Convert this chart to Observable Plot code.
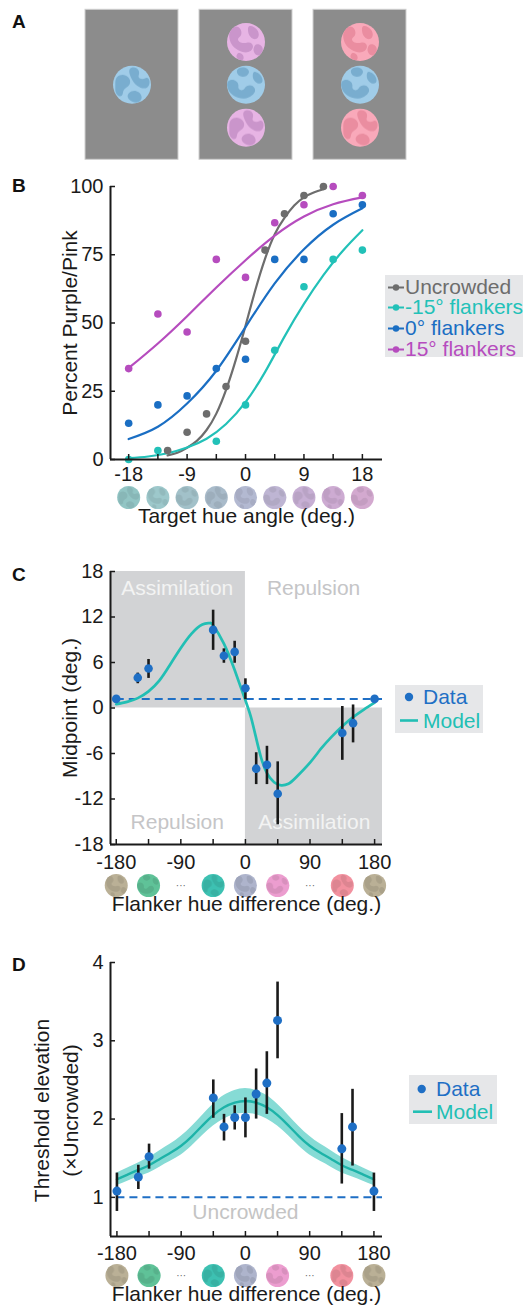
<!DOCTYPE html>
<html><head><meta charset="utf-8">
<script src="https://cdn.jsdelivr.net/npm/d3@7"></script>
<script src="https://cdn.jsdelivr.net/npm/@observablehq/plot@0.6"></script>
<style>
body{margin:0;background:#fff;}
#page{position:relative;width:525px;height:1312px;overflow:hidden;font-family:"Liberation Sans",Arial,Helvetica,sans-serif;}
.plabel{position:absolute;left:12px;font-weight:bold;font-size:19px;line-height:19px;color:#111;}
.lg{position:absolute;background:#e6e7e9;font-size:21px;}
.lgrow{position:absolute;left:0;height:24px;line-height:24px;white-space:nowrap;}
</style></head>
<body><div id="page"></div>
<script>
const FONT = '"Liberation Sans", Arial, Helvetica, sans-serif';

// ---------- Panel A: stimulus displays ----------
const displays = ["Uncrowded", "Purple flankers", "Pink flankers"];
const patchDisplay = ["Uncrowded", "Purple flankers", "Purple flankers", "Purple flankers", "Pink flankers", "Pink flankers", "Pink flankers"];
const patchSlot = [0, -1, 0, 1, -1, 0, 1];
const patchColor = ["#a0cce8", "#e7b4e4", "#a0cce8", "#e7b4e4", "#f9a9ba", "#a0cce8", "#f9a9ba"];
const patchBlob = ["#79adcf", "#ca95cb", "#79adcf", "#ca95cb", "#ea8da0", "#79adcf", "#ea8da0"];

// ---------- Panel B: psychometric functions ----------
const hueAnglesB = [-18, -13.5, -9, -4.5, 0, 4.5, 9, 13.5, 18];
const hueColorsB = ["#92c5c4", "#9dc8cb", "#a2c1c9", "#a9bbca", "#b3b9d1", "#beb5d3", "#c7afd4", "#cdabd2", "#d3a9cf"];
const seriesNamesB = ["Uncrowded", "-15° flankers", "0° flankers", "15° flankers"];
const seriesColorsB = ["#6d6d6d", "#22c1b8", "#1a6ec3", "#b64cbe"];

const uncX = [-12, -9, -6, -3, 0, 3, 6, 9, 12];
const uncY = [3.3, 10, 16.7, 26.7, 43.3, 76.7, 90, 96.7, 100];
const m15X = [-18, -13.5, -4.5, 0, 4.5, 9, 13.5, 18];
const m15Y = [0, 3.3, 6.7, 20, 40, 63.3, 73.3, 76.7];
const f0X = [-18, -13.5, -9, -4.5, 0, 4.5, 9, 13.5, 18];
const f0Y = [13.3, 20, 23.3, 33.3, 36.7, 73.3, 73.3, 90, 93.3];
const p15X = [-18, -13.5, -9, -4.5, 0, 4.5, 9, 13.5, 18];
const p15Y = [33.3, 53.3, 46.7, 73.3, 66.7, 86.7, 93.3, 100, 96.7];

const uncFitX = [-12, -10.5, -9, -7.5, -6, -4.5, -3, -1.5, 0, 1.5, 3, 4.5, 6, 7.5, 9, 10.5, 12];
const uncFitY = [1.5, 2.5, 4.3, 6.8, 10.8, 16.8, 25.5, 36.5, 49, 62, 73.5, 82.5, 88.5, 93, 96, 97.8, 99];
const m15FitX = [-18, -15, -12, -9, -6, -3, 0, 3, 6, 9, 12, 15, 18];
const m15FitY = [0.5, 1.1, 2.3, 4.4, 7.6, 13, 21, 32, 45, 57, 67.5, 76.5, 84];
const f0FitX = [-18, -13.5, -9, -4.5, 0, 4.5, 9, 13.5, 18];
const f0FitY = [7.5, 12, 20.5, 32.5, 48.5, 64.5, 77, 86, 92];
const p15FitX = [-18, -13.5, -9, -4.5, 0, 4.5, 9, 13.5, 18];
const p15FitY = [33.5, 42.5, 52.5, 63, 73, 82, 89, 93.5, 96];

const bXDomain = [-20.8, 21.1];
const bXTicks = [-18, -13.5, -9, -4.5, 0, 4.5, 9, 13.5, 18];
const bXLabels = [-18, -9, 0, 9, 18];
const bYTicks = [0, 25, 50, 75, 100];

// ---------- Panels C & D: flanker hue difference ----------
const flankX = [-180, -150, -135, -45, -30, -15, 0, 15, 30, 45, 135, 150, 180];
const midC = [1.2, 4.0, 5.2, 10.3, 6.9, 7.4, 2.6, -8.0, -7.5, -11.3, -3.3, -2.0, 1.2];
const midCLo = [1.2, 3.2, 3.9, 7.6, 5.9, 5.9, 1.1, -10.1, -10.1, -15.4, -6.9, -4.6, 1.2];
const midCHi = [1.2, 4.6, 6.4, 12.9, 7.8, 8.8, 3.85, -5.9, -5.05, -7.1, 0.2, 0.4, 1.2];
const modelCX = [-180, -165, -150, -135, -120, -105, -90, -75, -60, -50, -45, -30, -15, 0, 8, 15, 22, 30, 40, 50, 60, 70, 90, 105, 120, 135, 150, 165, 180];
const modelCY = [0.5, 0.8, 1.3, 2.2, 3.6, 5.7, 7.9, 9.8, 11.0, 11.2, 10.9, 8.5, 5.0, 1.0, -1.3, -4.0, -6.6, -8.6, -9.8, -10.2, -10.0, -9.2, -7.2, -5.4, -3.8, -2.4, -1.2, -0.2, 0.7];
const uncrowdedMidC = 1.2;

const thrD = [1.08, 1.26, 1.52, 2.27, 1.9, 2.02, 2.02, 2.32, 2.46, 3.26, 1.62, 1.9, 1.08];
const thrDLo = [0.82, 1.10, 1.36, 2.01, 1.72, 1.86, 1.76, 2.0, 2.06, 2.77, 1.17, 1.40, 0.82];
const thrDHi = [1.31, 1.41, 1.68, 2.5, 2.06, 2.17, 2.27, 2.64, 2.86, 3.75, 2.07, 2.38, 1.31];
const modelDX = [-180, -165, -150, -135, -120, -105, -90, -75, -60, -45, -30, -15, 0, 15, 30, 45, 60, 75, 90, 105, 120, 135, 150, 165, 180];
const modelDY = [1.23, 1.29, 1.35, 1.41, 1.49, 1.57, 1.66, 1.78, 1.92, 2.05, 2.15, 2.21, 2.23, 2.21, 2.15, 2.05, 1.92, 1.78, 1.66, 1.57, 1.49, 1.41, 1.35, 1.29, 1.23];
const modelDHalf = [0.08, 0.085, 0.09, 0.10, 0.105, 0.11, 0.12, 0.125, 0.13, 0.14, 0.15, 0.155, 0.16, 0.155, 0.15, 0.14, 0.13, 0.125, 0.12, 0.11, 0.105, 0.10, 0.09, 0.085, 0.08];
const uncrowdedThr = 1;

const hueAnglesCD = [-180, -135, -45, 0, 45, 135, 180];
const hueColorsCD = ["#bab096", "#5fc298", "#3dc1b2", "#aeb4cc", "#ec9dcf", "#f2919f", "#bab096"];
const ellipsisAngles = [-90, 90];

const cXDomain = [-188, 191];
const dXDomain = [-189, 192];
const cdXTicks = [-180, -135, -90, -45, 0, 45, 90, 135, 180];
const cdXLabels = [-180, -90, 0, 90, 180];
const cYTicks = [-18, -12, -6, 0, 6, 12, 18];
const dYTicks = [1, 2, 3, 4];
const cYDomain = [-18, 18];
const dYDomain = [0.5, 4];

const blueData = "#1f6fc5";
const cyanModel = "#22bfb4";

// ---------- texture patterns ----------
const BLOBS = [
  "M0.1,0.3 C0.25,0.15 0.48,0.28 0.45,0.45 C0.42,0.6 0.28,0.55 0.26,0.72 C0.24,0.88 0.05,0.8 0.06,0.6 C0.07,0.48 0.04,0.38 0.1,0.3 Z M0.48,0.05 C0.62,0.0 0.72,0.12 0.68,0.24 C0.64,0.34 0.76,0.38 0.86,0.32 C0.98,0.28 1.0,0.5 0.9,0.57 C0.78,0.65 0.58,0.52 0.5,0.36 C0.44,0.24 0.38,0.1 0.48,0.05 Z M0.42,0.72 C0.54,0.6 0.72,0.68 0.75,0.8 C0.78,0.92 0.64,1.0 0.52,0.95 C0.4,0.9 0.34,0.8 0.42,0.72 Z",
  "M0.18,0.1 C0.36,0.04 0.44,0.28 0.33,0.37 C0.22,0.46 0.36,0.56 0.52,0.52 C0.68,0.48 0.74,0.64 0.62,0.74 C0.48,0.84 0.22,0.72 0.12,0.56 C0.02,0.4 0.04,0.16 0.18,0.1 Z M0.62,0.08 C0.78,0.1 0.9,0.28 0.8,0.4 C0.7,0.48 0.58,0.36 0.56,0.25 C0.54,0.16 0.55,0.06 0.62,0.08 Z M0.8,0.56 C0.94,0.56 1.0,0.74 0.88,0.84 C0.78,0.9 0.68,0.78 0.7,0.68 C0.72,0.6 0.74,0.56 0.8,0.56 Z M0.28,0.8 C0.38,0.76 0.48,0.88 0.42,0.97 C0.34,1.02 0.18,0.92 0.28,0.8 Z",
  "M0.02,0.42 C0.14,0.3 0.32,0.42 0.3,0.54 C0.28,0.64 0.4,0.68 0.46,0.6 C0.52,0.5 0.66,0.48 0.72,0.58 C0.8,0.7 0.62,0.84 0.46,0.86 C0.3,0.88 0.1,0.78 0.04,0.64 C0.0,0.55 -0.01,0.48 0.02,0.42 Z M0.32,0.06 C0.44,0.0 0.62,0.08 0.57,0.2 C0.52,0.32 0.34,0.32 0.28,0.22 C0.24,0.15 0.26,0.09 0.32,0.06 Z M0.74,0.16 C0.86,0.18 0.98,0.34 0.92,0.44 C0.85,0.52 0.7,0.42 0.68,0.3 C0.67,0.22 0.69,0.15 0.74,0.16 Z"
];
const defsSvg = d3.create("svg").attr("width", 0).attr("height", 0).style("position", "absolute");
const defs = defsSvg.append("defs");
const patCache = new Map();
function blobFill(color, variant) {
  const key = color + "|" + variant;
  if (!patCache.has(key)) {
    const id = "blob" + patCache.size;
    const p = defs.append("pattern").attr("id", id)
      .attr("patternUnits", "objectBoundingBox").attr("patternContentUnits", "objectBoundingBox")
      .attr("width", 1).attr("height", 1);
    p.append("path").attr("d", BLOBS[variant % BLOBS.length]).attr("fill", color);
    patCache.set(key, id);
  }
  return `url(#${patCache.get(key)})`;
}
document.body.appendChild(defsSvg.node());
const darker = (c, k = 0.35) => d3.color(c).darker(k).formatHex();

const page = document.getElementById("page");
function place(node, top) {
  node.style.position = "absolute";
  node.style.top = top + "px";
  node.style.left = "0px";
  page.appendChild(node);
}
function label(txt, top) {
  const d = document.createElement("div");
  d.className = "plabel"; d.textContent = txt; d.style.top = top + "px";
  page.appendChild(d);
}
const baseStyle = {fontFamily: FONT, fontSize: "20px", color: "#1a1a1a", background: "transparent", overflow: "visible"};
const fmt = d => String(d);
const TITLE = 21;

// ---------- Panel A ----------
const patches = patchDisplay.map((d, i) => ({display: d, slot: patchSlot[i], color: patchColor[i], blob: blobFill(patchBlob[i], i)}));
const plotA = Plot.plot({
  width: 525, height: 165, margin: 0,
  style: baseStyle,
  color: {type: "identity"},
  x: {type: "band", domain: displays, range: [84, 407], paddingInner: 0.18, paddingOuter: 0, axis: null},
  y: {domain: [-1.75, 1.75], range: [9.3, 159.3], axis: null},
  marks: [
    Plot.barY(displays, {x: d => d, y1: () => -1.75, y2: () => 1.75, fill: "#8c8c8c", stroke: "#cfcfcf", strokeWidth: 1}),
    Plot.dot(patches, {x: "display", y: "slot", r: 19, fill: "color"}),
    Plot.dot(patches, {x: "display", y: "slot", r: 19, fill: "blob"})
  ]
});
place(plotA, 0);
label("A", 12);

// ---------- Panel B ----------
const toPts = (xs, ys) => xs.map((x, i) => ({x, y: ys[i]}));
const hueB = hueAnglesB.map((a, i) => ({a, c: hueColorsB[i], b: blobFill(darker(hueColorsB[i], 0.2), i)}));
const fitsB = [toPts(uncFitX, uncFitY), toPts(m15FitX, m15FitY), toPts(f0FitX, f0FitY), toPts(p15FitX, p15FitY)];
const ptsB = [toPts(uncX, uncY), toPts(m15X, m15Y), toPts(f0X, f0Y), toPts(p15X, p15Y)];
const plotB = Plot.plot({
  width: 525, height: 375, marginLeft: 110, marginRight: 143, marginTop: 16, marginBottom: 86,
  style: baseStyle,
  color: {type: "identity"},
  x: {domain: bXDomain},
  y: {domain: [0, 100]},
  marks: [
    ...fitsB.map((d, i) => Plot.line(d, {x: "x", y: "y", stroke: seriesColorsB[i], strokeWidth: 2.2, curve: "natural"})),
    ...ptsB.map((d, i) => Plot.dot(d, {x: "x", y: "y", r: 3.8, fill: seriesColorsB[i]})),
    Plot.ruleX([bXDomain[0]], {stroke: "#1a1a1a", strokeWidth: 2}),
    Plot.ruleY([0], {stroke: "#1a1a1a", strokeWidth: 2}),
    Plot.tickX(bXTicks, {x: d => d, insetTop: 268, stroke: "#1a1a1a", strokeWidth: 1.5}),
    Plot.tickY(bYTicks, {y: d => d, insetRight: 267, stroke: "#1a1a1a", strokeWidth: 1.5}),
    Plot.axisX({ticks: bXLabels, tickSize: 0, tickPadding: 7, tickFormat: fmt, label: null, fill: "#1a1a1a"}),
    Plot.axisY({ticks: bYTicks, tickSize: 0, tickPadding: 7, tickFormat: fmt, label: null, fill: "#1a1a1a"}),
    Plot.dot(hueB, {x: "a", y: () => 0, dy: 38, r: 11.5, fill: "c"}),
    Plot.dot(hueB, {x: "a", y: () => 0, dy: 38, r: 11.5, fill: "b"}),
    Plot.text(["Target hue angle (deg.)"], {frameAnchor: "bottom", dy: 63, fontSize: TITLE, fill: "#1a1a1a"}),
    Plot.text(["Percent Purple/Pink"], {frameAnchor: "left", textAnchor: "middle", rotate: -90, dx: -40, fontSize: TITLE, fill: "#1a1a1a"})
  ]
});
place(plotB, 170);
label("B", 176);

// legend B
{
  const lg = document.createElement("div");
  lg.className = "lg";
  Object.assign(lg.style, {left: "385px", top: "275px", width: "138px", height: "82px"});
  seriesNamesB.forEach((name, i) => {
    const row = document.createElement("div");
    row.className = "lgrow";
    row.style.top = (11.5 + i * 20.8 - 12) + "px";
    row.style.color = seriesColorsB[i];
    row.innerHTML = `<svg width="18" height="24" style="position:absolute;left:2px;top:0"><line x1="1" x2="17" y1="12.5" y2="12.5" stroke="${seriesColorsB[i]}" stroke-width="2"/><circle cx="9" cy="12.5" r="3.2" fill="${seriesColorsB[i]}"/></svg><span style="position:absolute;left:20px;top:0">${name}</span>`;
    lg.appendChild(row);
  });
  page.appendChild(lg);
}

// ---------- Panel C ----------
const dataC = flankX.map((x, i) => ({x, y: midC[i], lo: midCLo[i], hi: midCHi[i]}));
const modelC = toPts(modelCX, modelCY);
const regionsC = [
  {x1: cXDomain[0], x2: 0, y1: 0, y2: cYDomain[1]},
  {x1: 0, x2: cXDomain[1], y1: cYDomain[0], y2: 0}
];
const regionLabelsC = [
  {x: -95, y: 15.8, t: "Assimilation", c: "#f3f3f3"},
  {x: 95, y: 15.8, t: "Repulsion", c: "#c5c5c7"},
  {x: -95, y: -15.1, t: "Repulsion", c: "#c5c5c7"},
  {x: 96, y: -15.1, t: "Assimilation", c: "#f3f3f3"}
];
const hueCD = hueAnglesCD.map((a, i) => ({a, c: hueColorsCD[i], b: blobFill(darker(hueColorsCD[i], 0.25), i + 1)}));
function hueRow(yBase, dy) {
  return [
    Plot.dot(hueCD, {x: "a", y: () => yBase, dy, r: 11.5, fill: "c"}),
    Plot.dot(hueCD, {x: "a", y: () => yBase, dy, r: 11.5, fill: "b"}),
    Plot.text(ellipsisAngles, {x: d => d, y: () => yBase, dy, text: () => "···", fontSize: 10, fill: "#666"})
  ];
}
const plotC = Plot.plot({
  width: 525, height: 375, marginLeft: 110, marginRight: 143, marginTop: 16, marginBottom: 86,
  style: baseStyle,
  color: {type: "identity"},
  x: {domain: cXDomain},
  y: {domain: cYDomain},
  marks: [
    Plot.rect(regionsC, {x1: "x1", x2: "x2", y1: "y1", y2: "y2", fill: "#d2d3d5"}),
    Plot.text(regionLabelsC, {x: "x", y: "y", text: "t", fill: "c", fontSize: TITLE}),
    Plot.ruleY([uncrowdedMidC], {x1: -180, x2: cXDomain[1], stroke: blueData, strokeWidth: 2, strokeDasharray: "8,5"}),
    Plot.line(modelC, {x: "x", y: "y", stroke: cyanModel, strokeWidth: 2.7, curve: "natural"}),
    Plot.ruleX(dataC, {x: "x", y1: "lo", y2: "hi", stroke: "#1a1a1a", strokeWidth: 2.6}),
    Plot.dot(dataC, {x: "x", y: "y", r: 4.3, fill: blueData}),
    Plot.ruleX([cXDomain[0]], {stroke: "#1a1a1a", strokeWidth: 2}),
    Plot.ruleY([cYDomain[0]], {stroke: "#1a1a1a", strokeWidth: 2}),
    Plot.tickX(cdXTicks, {x: d => d, insetTop: 268, stroke: "#1a1a1a", strokeWidth: 1.5}),
    Plot.tickY(cYTicks, {y: d => d, insetRight: 267, stroke: "#1a1a1a", strokeWidth: 1.5}),
    Plot.axisX({ticks: cdXLabels, tickSize: 0, tickPadding: 10, tickFormat: fmt, label: null, fill: "#1a1a1a"}),
    Plot.axisY({ticks: cYTicks, tickSize: 0, tickPadding: 7, tickFormat: fmt, label: null, fill: "#1a1a1a"}),
    ...hueRow(cYDomain[0], 41),
    Plot.text(["Flanker hue difference (deg.)"], {frameAnchor: "bottom", dy: 66, fontSize: TITLE, fill: "#1a1a1a"}),
    Plot.text(["Midpoint (deg.)"], {frameAnchor: "left", textAnchor: "middle", rotate: -90, dx: -40, fontSize: TITLE, fill: "#1a1a1a"})
  ]
});
place(plotC, 555);
label("C", 565);

function dataModelLegend(left, top, w, h, r1, r2, dotX, lineX1, lineX2, textX) {
  const lg = document.createElement("div");
  lg.className = "lg";
  Object.assign(lg.style, {left: left + "px", top: top + "px", width: w + "px", height: h + "px"});
  lg.innerHTML =
    `<svg width="${w}" height="${h}" style="position:absolute;left:0;top:0"><circle cx="${dotX}" cy="${r1}" r="4.2" fill="${blueData}"/><line x1="${lineX1}" x2="${lineX2}" y1="${r2}" y2="${r2}" stroke="${cyanModel}" stroke-width="2.6"/></svg>` +
    `<div class="lgrow" style="left:${textX}px;top:${r1 - 12}px;color:${blueData}">Data</div>` +
    `<div class="lgrow" style="left:${textX}px;top:${r2 - 12}px;color:${cyanModel}">Model</div>`;
  page.appendChild(lg);
}
dataModelLegend(395, 685, 88, 48, 12, 35.5, 14, 5, 23, 28);

// ---------- Panel D ----------
const dataD = flankX.map((x, i) => ({x, y: thrD[i], lo: thrDLo[i], hi: thrDHi[i]}));
const modelD = modelDX.map((x, i) => ({x, y: modelDY[i], lo: modelDY[i] - modelDHalf[i], hi: modelDY[i] + modelDHalf[i]}));
const plotD = Plot.plot({
  width: 525, height: 367, marginLeft: 110, marginRight: 143, marginTop: 17, marginBottom: 76,
  style: baseStyle,
  color: {type: "identity"},
  x: {domain: dXDomain},
  y: {domain: dYDomain},
  marks: [
    Plot.areaY(modelD, {x: "x", y1: "lo", y2: "hi", fill: "#86dbd5", curve: "natural"}),
    Plot.line(modelD, {x: "x", y: "y", stroke: "#1db3a8", strokeWidth: 2.4, curve: "natural"}),
    Plot.ruleY([uncrowdedThr], {x1: -180, x2: dXDomain[1], stroke: blueData, strokeWidth: 2, strokeDasharray: "8,5"}),
    Plot.text(["Uncrowded"], {x: () => 0, y: () => 0.81, fontSize: TITLE, fill: "#c4c4c4"}),
    Plot.ruleX(dataD, {x: "x", y1: "lo", y2: "hi", stroke: "#1a1a1a", strokeWidth: 2.6}),
    Plot.dot(dataD, {x: "x", y: "y", r: 4.5, fill: blueData}),
    Plot.ruleX([dXDomain[0]], {stroke: "#1a1a1a", strokeWidth: 2}),
    Plot.ruleY([dYDomain[0]], {stroke: "#1a1a1a", strokeWidth: 2}),
    Plot.tickX(cdXTicks, {x: d => d, insetTop: 269, stroke: "#1a1a1a", strokeWidth: 1.5}),
    Plot.tickY(dYTicks, {y: d => d, insetRight: 267, stroke: "#1a1a1a", strokeWidth: 1.5}),
    Plot.axisX({ticks: cdXLabels, tickSize: 0, tickPadding: 9, tickFormat: fmt, label: null, fill: "#1a1a1a"}),
    Plot.axisY({ticks: dYTicks, tickSize: 0, tickPadding: 7, tickFormat: fmt, label: null, fill: "#1a1a1a"}),
    ...hueRow(dYDomain[0], 39),
    Plot.text(["Flanker hue difference (deg.)"], {frameAnchor: "bottom", dy: 64, fontSize: TITLE, fill: "#1a1a1a"}),
    Plot.text(["Threshold elevation\n(×Uncrowded)"], {frameAnchor: "left", textAnchor: "middle", rotate: -90, dx: -56, dy: 11, lineHeight: 1.35, fontSize: TITLE, fill: "#1a1a1a"})
  ]
});
place(plotD, 945);
label("D", 955);
dataModelLegend(409, 1075, 88, 49, 14, 36.7, 12.7, 4, 23, 27);
</script></body></html>
